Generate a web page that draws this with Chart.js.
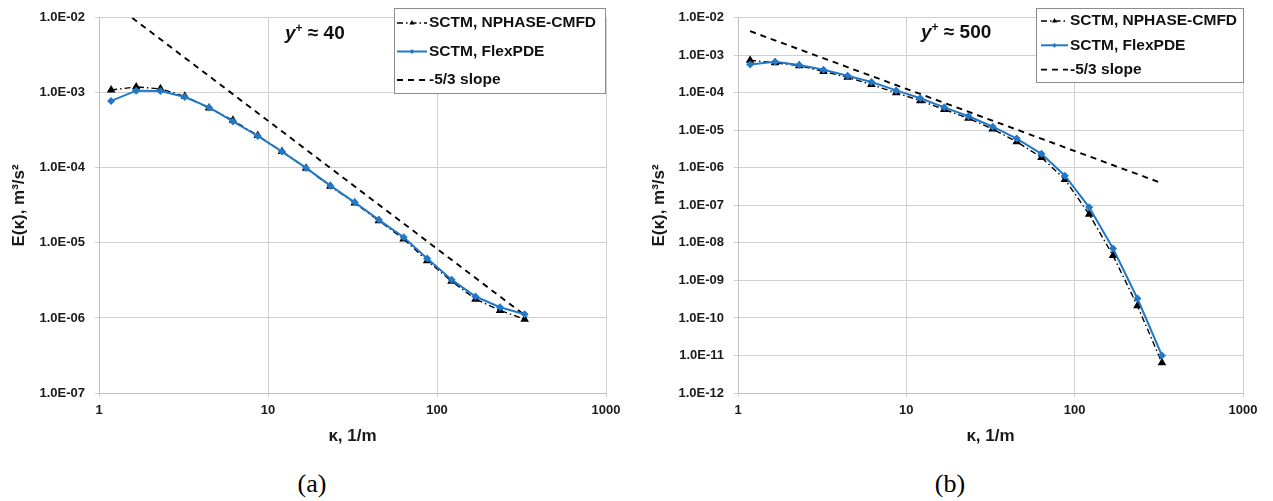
<!DOCTYPE html>
<html>
<head>
<meta charset="utf-8">
<script src="https://cdn.jsdelivr.net/npm/chart.js@4.4.1/dist/chart.umd.min.js"></script>
<style>
body { margin: 0; background: #fff; width: 1273px; height: 501px; position: relative; overflow: hidden; font-family: "Liberation Sans", Arial, sans-serif; }
canvas { position: absolute; top: 0; }
#chartA { left: 0; }
#chartB { left: 636px; }
.yplus { position: absolute; font-weight: bold; font-size: 19px; line-height: 19px; color: #111; white-space: nowrap; }
.yplus i { font-style: italic; }
.yplus span { font-size: 12px; position: relative; top: -7px; }
.cap { position: absolute; top: 471px; width: 60px; text-align: center; font-family: "Liberation Serif", "Times New Roman", serif; font-size: 26px; line-height: 26px; color: #000; }
</style>
</head>
<body>
<canvas id="chartA" width="636" height="460"></canvas>
<canvas id="chartB" width="637" height="460"></canvas>
<div class="yplus" style="left:285px;top:23px"><i>y</i><span>+</span> ≈ 40</div>
<div class="yplus" style="left:921px;top:22px"><i>y</i><span>+</span> ≈ 500</div>
<div class="cap" style="left:282px">(a)</div>
<div class="cap" style="left:920px">(b)</div>
<script>
// wavenumbers (1/m), same for both cases
const kappa = [1.18, 1.66, 2.31, 3.22, 4.48, 6.2, 8.7, 12.1, 16.8, 23.4, 32.6, 45.3, 63.5, 87.5, 122, 169, 236, 330];

// (a) y+ ~ 40
const nphaseA = [1.09e-3, 1.20e-3, 1.13e-3, 9.0e-4, 6.3e-4, 4.3e-4, 2.7e-4, 1.65e-4, 9.9e-5, 5.7e-5, 3.4e-5, 1.98e-5, 1.13e-5, 5.8e-6, 3.09e-6, 1.78e-6, 1.26e-6, 9.6e-7];
const flexA = [7.8e-4, 1.07e-3, 1.06e-3, 8.8e-4, 6.4e-4, 4.16e-4, 2.66e-4, 1.65e-4, 1.0e-4, 5.8e-5, 3.47e-5, 2.03e-5, 1.19e-5, 6.2e-6, 3.24e-6, 1.93e-6, 1.39e-6, 1.12e-6];
const slopeXA = [1.57, 341];
const slopeYA = [1.0e-2, 1.03e-6];

// (b) y+ ~ 500
const nphaseB = [7.4e-4, 6.3e-4, 5.3e-4, 3.7e-4, 2.6e-4, 1.66e-4, 1.0e-4, 6.2e-5, 3.6e-5, 2.1e-5, 1.08e-5, 4.96e-6, 1.9e-6, 4.9e-7, 5.8e-8, 4.6e-9, 2.1e-10, 6.4e-12];
const flexB = [5.7e-4, 6.7e-4, 5.5e-4, 4.1e-4, 2.84e-4, 1.94e-4, 1.16e-4, 7.2e-5, 4.1e-5, 2.37e-5, 1.25e-5, 6.05e-6, 2.37e-6, 6.2e-7, 8.9e-8, 7.1e-9, 3.3e-10, 1.0e-11];
const slopeXB = [1.18, 330];
const slopeYB = [4.4e-3, 3.9e-7];

// ticks
const xTicks = [1, 10, 100, 1000];
const xTickLabels = ['1', '10', '100', '1000'];
const yTicksA = [1e-7, 1e-6, 1e-5, 1e-4, 1e-3, 1e-2];
const yTickLabelsA = ['1.0E-07', '1.0E-06', '1.0E-05', '1.0E-04', '1.0E-03', '1.0E-02'];
const yTicksB = [1e-12, 1e-11, 1e-10, 1e-9, 1e-8, 1e-7, 1e-6, 1e-5, 1e-4, 1e-3, 1e-2];
const yTickLabelsB = ['1.0E-12', '1.0E-11', '1.0E-10', '1.0E-09', '1.0E-08', '1.0E-07', '1.0E-06', '1.0E-05', '1.0E-04', '1.0E-03', '1.0E-02'];

const blue = '#2179c8';
const gridCol = '#d0d0d0';
const fontFam = '"Liberation Sans", Arial, sans-serif';

// legend drawn inside the plot, with a box round it
const boxLegend = {
	id: 'boxLegend',
	afterDraw(chart, args, o) {
		const ctx = chart.ctx;
		ctx.save();
		ctx.fillStyle = '#fff';
		ctx.fillRect(o.x, o.y, o.w, o.h);
		ctx.strokeStyle = '#8c8c8c';
		ctx.lineWidth = 1;
		ctx.strokeRect(o.x + 0.5, o.y + 0.5, o.w, o.h);
		ctx.font = 'bold 15.5px ' + fontFam;
		ctx.textBaseline = 'middle';
		chart.data.datasets.forEach((ds, i) => {
			const y = o.y + o.row0 + i * o.rowGap;
			const x0 = o.x + o.symX, x1 = x0 + o.symW;
			ctx.strokeStyle = ds.borderColor;
			ctx.lineWidth = ds.borderWidth;
			ctx.setLineDash(ds.borderDash || []);
			ctx.beginPath();
			ctx.moveTo(x0, y);
			ctx.lineTo(x1, y);
			ctx.stroke();
			ctx.setLineDash([]);
			if (ds.pointRadius > 0) {
				ctx.fillStyle = ds.backgroundColor;
				Chart.helpers.drawPoint(ctx, { pointStyle: ds.pointStyle, radius: ds.pointRadius * 0.6, borderWidth: 0, rotation: 0 }, (x0 + x1) / 2, y);
			}
			ctx.fillStyle = '#111';
			ctx.fillText(ds.label, x1 + 2, y);
		});
		ctx.restore();
	}
};

function pts(xs, ys) {
	return xs.map((x, i) => ({ x: x, y: ys[i] }));
}

function makeChart(id, nphase, flex, sx, sy, yTicks, yLabels, cfg) {
	const data = {
		datasets: [{
			label: 'SCTM, NPHASE-CMFD',
			data: pts(kappa, nphase),
			showLine: true,
			borderColor: '#000',
			backgroundColor: '#000',
			borderWidth: 1.4,
			borderDash: [6, 3, 1.5, 3],
			pointStyle: 'triangle',
			pointRadius: 5,
			pointBorderWidth: 0,
			order: 2
		}, {
			label: 'SCTM, FlexPDE',
			data: pts(kappa, flex),
			showLine: true,
			borderColor: blue,
			backgroundColor: blue,
			borderWidth: 2,
			pointStyle: 'rectRot',
			pointRadius: 4,
			pointBorderWidth: 0,
			order: 1
		}, {
			label: '-5/3 slope',
			data: pts(sx, sy),
			showLine: true,
			borderColor: '#000',
			backgroundColor: '#000',
			borderWidth: 1.9,
			borderDash: [6, 5],
			pointRadius: 0,
			order: 3
		}]
	};

	const config = {
		type: 'scatter',
		data: data,
		plugins: [boxLegend],
		options: {
			responsive: false,
			animation: false,
			layout: { padding: { left: 0, right: cfg.right, top: 8, bottom: 0 } },
			plugins: {
				legend: { display: false },
				tooltip: { enabled: false },
				boxLegend: cfg.legend
			},
			scales: {
				x: {
					type: 'logarithmic',
					min: 1,
					max: 1000,
					afterFit: (s) => { s.height = 67; },
					afterBuildTicks: (s) => { s.ticks = xTicks.map(v => ({ value: v })); },
					ticks: {
						autoSkip: false,
						maxRotation: 0,
						padding: 6,
						color: '#1a1a1a',
						font: { family: fontFam, size: 13, weight: 'bold' },
						callback: (v) => xTickLabels[xTicks.indexOf(v)]
					},
					grid: { color: gridCol, tickColor: gridCol, tickLength: 4 },
					border: { color: '#bfbfbf' },
					title: {
						display: true,
						text: 'κ, 1/m',
						color: '#1a1a1a',
						font: { family: fontFam, size: 17, weight: 'bold' },
						padding: { top: 4, bottom: 13 }
					}
				},
				y: {
					type: 'logarithmic',
					min: yTicks[0],
					max: yTicks[yTicks.length - 1],
					afterFit: (s) => { s.width = cfg.yWidth; },
					afterBuildTicks: (s) => { s.ticks = yTicks.map(v => ({ value: v })); },
					ticks: {
						autoSkip: false,
						padding: 10,
						color: '#1a1a1a',
						font: { family: fontFam, size: 13, weight: 'bold' },
						callback: (v) => yLabels[yTicks.indexOf(v)]
					},
					grid: { color: gridCol, tickColor: gridCol, tickLength: 4 },
					border: { color: '#bfbfbf' },
					title: {
						display: true,
						text: 'E(κ), m³/s²',
						color: '#1a1a1a',
						font: { family: fontFam, size: 17, weight: 'bold' },
						padding: { top: cfg.titlePad, bottom: 4 }
					}
				}
			}
		}
	};

	return new Chart(document.getElementById(id), config);
}

makeChart('chartA', nphaseA, flexA, slopeXA, slopeYA, yTicksA, yTickLabelsA, {
	right: 30, yWidth: 99, titlePad: 9,
	legend: { x: 394, y: 8, w: 211, h: 85, row0: 15, rowGap: 28.5, symX: 3, symW: 30 }
});
makeChart('chartB', nphaseB, flexB, slopeXB, slopeYB, yTicksB, yTickLabelsB, {
	right: 30, yWidth: 102, titlePad: 13,
	legend: { x: 400, y: 8, w: 207, h: 74, row0: 13, rowGap: 24.3, symX: 5, symW: 27 }
});
</script>
</body>
</html>
